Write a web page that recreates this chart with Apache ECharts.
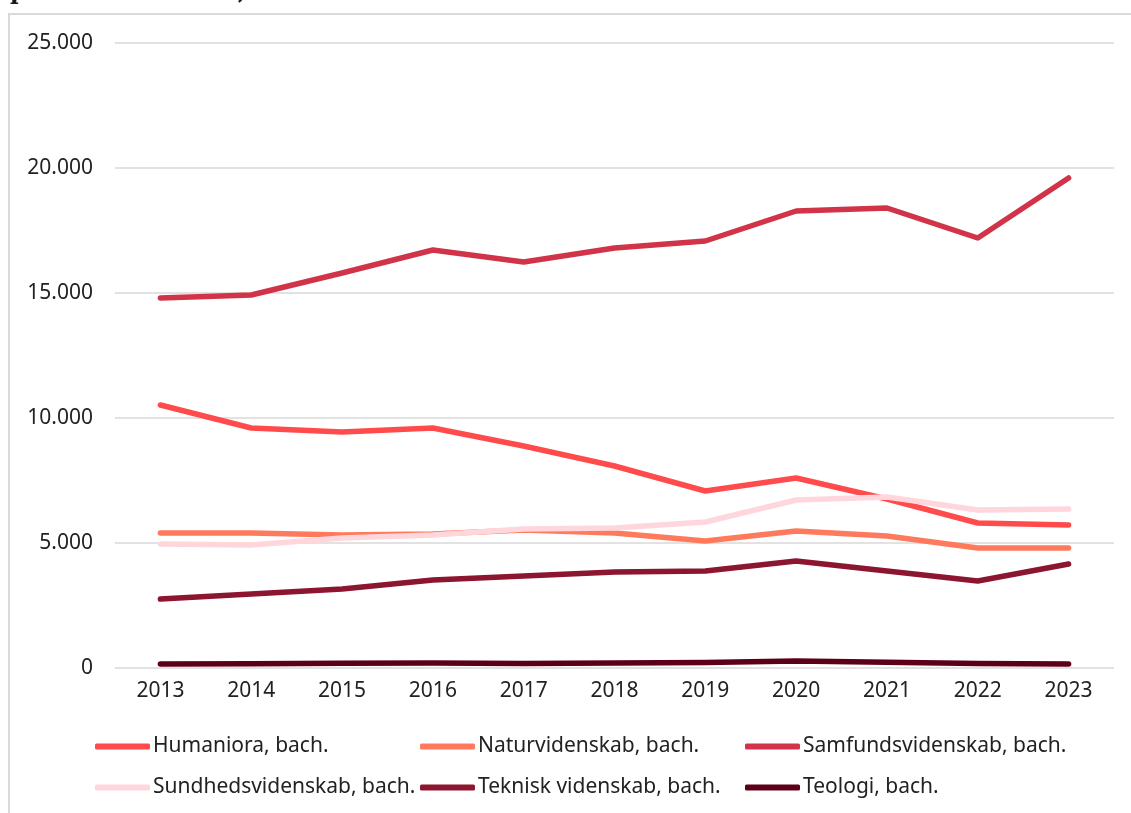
<!DOCTYPE html>
<html>
<head>
<meta charset="utf-8">
<script src="https://cdn.jsdelivr.net/npm/echarts@6/dist/echarts.min.js"></script>
<style>
html,body{margin:0;padding:0;background:#fff;}
#c{width:1131px;height:813px;}
</style>
</head>
<body>
<div id="c"></div>
<script>
const years = ['2013','2014','2015','2016','2017','2018','2019','2020','2021','2022','2023'];
const humaniora = [10520, 9600, 9440, 9600, 8880, 8080, 7080, 7600, 6760, 5800, 5720];
const natur = [5400, 5400, 5320, 5360, 5520, 5400, 5080, 5480, 5280, 4800, 4800];
const samfund = [14800, 14920, 15800, 16720, 16240, 16800, 17080, 18280, 18400, 17200, 19600];
const sundhed = [4960, 4920, 5200, 5320, 5560, 5600, 5840, 6720, 6840, 6320, 6360];
const teknisk = [2760, 2960, 3160, 3520, 3680, 3840, 3880, 4280, 3880, 3480, 4160];
const teologi = [160, 170, 190, 200, 180, 200, 220, 280, 230, 180, 160];
const seriesNames = ['Humaniora, bach.', 'Naturvidenskab, bach.', 'Samfundsvidenskab, bach.',
  'Sundhedsvidenskab, bach.', 'Teknisk videnskab, bach.', 'Teologi, bach.'];
const seriesData = [humaniora, natur, samfund, sundhed, teknisk, teologi];
const colors = ['#FF4B4B', '#FF7A5C', '#D13448', '#FFD6DC', '#8C1530', '#5C0018'];
const titleText = 'på hovedområder, 2013-2023';

const chart = echarts.init(document.getElementById('c'), null, {renderer: 'canvas'});
const fontFam = '"Noto Sans", sans-serif';
const legendPos = [[95, 736], [420, 736], [745, 736], [95, 777], [420, 777], [745, 777]];
chart.setOption({
  animation: false,
  backgroundColor: '#fff',
  color: colors,
  graphic: [
    {type: 'rect', shape: {x: 9, y: 14, width: 1140, height: 820}, style: {fill: 'none', stroke: '#d9d9d9', lineWidth: 2}, z: -1},
    {type: 'text', left: 10, top: -19, style: {text: titleText, font: 'bold 23.5px "DejaVu Serif", serif', fill: '#1a1a1a'}}
  ],
  grid: {left: 115, right: 17, top: 43, bottom: 145, containLabel: false},
  xAxis: {
    type: 'category', data: years, boundaryGap: true,
    axisLine: {show: false}, axisTick: {show: false},
    axisLabel: {color: '#222', fontSize: 21, fontFamily: fontFam, margin: 13}
  },
  yAxis: {
    type: 'value', min: 0, max: 25000, interval: 5000,
    axisLabel: {color: '#222', fontSize: 21, fontFamily: fontFam, margin: 22,
      formatter: v => v === 0 ? '0' : (v/1000).toFixed(0) + '.000'},
    splitLine: {lineStyle: {color: '#d9d9d9', width: 1.5}},
    axisLine: {show: false}, axisTick: {show: false}
  },
  legend: seriesNames.map((n, i) => ({
    left: legendPos[i][0], top: legendPos[i][1], padding: 0,
    itemWidth: 55, itemHeight: 6, itemGap: 0,
    textStyle: {fontSize: 21, fontFamily: fontFam, color: '#222', padding: [0, 0, 0, -2]},
    data: [{name: n, icon: 'roundRect'}]
  })),
  series: seriesNames.map((n, i) => ({
    name: n, type: 'line', data: seriesData[i], symbol: 'none',
    lineStyle: {width: 5.5, cap: 'round', join: 'round', color: colors[i]},
    itemStyle: {color: colors[i]}
  }))
});
</script>
</body>
</html>
